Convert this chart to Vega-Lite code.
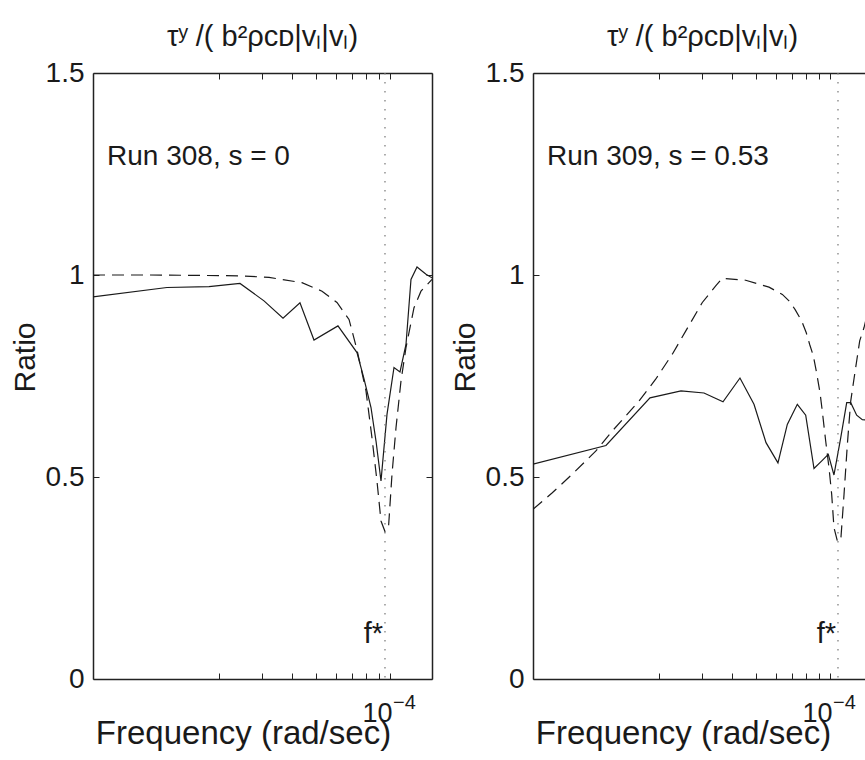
{
  "$schema": "https://vega.github.io/schema/vega-lite/v6.json",
  "background": "white",
  "padding": {"left": 10, "top": 23, "right": 0, "bottom": 5},
  "datasets": {
    "curves": [
      {"panel":"308","series":"measured","freq":6.135e-6,"ratio":0.946},
      {"panel":"308","series":"measured","freq":1.229e-5,"ratio":0.969},
      {"panel":"308","series":"measured","freq":1.825e-5,"ratio":0.971},
      {"panel":"308","series":"measured","freq":2.442e-5,"ratio":0.979},
      {"panel":"308","series":"measured","freq":3.060e-5,"ratio":0.936},
      {"panel":"308","series":"measured","freq":3.659e-5,"ratio":0.893},
      {"panel":"308","series":"measured","freq":4.291e-5,"ratio":0.931},
      {"panel":"308","series":"measured","freq":4.895e-5,"ratio":0.839},
      {"panel":"308","series":"measured","freq":6.132e-5,"ratio":0.874},
      {"panel":"308","series":"measured","freq":7.333e-5,"ratio":0.808},
      {"panel":"308","series":"measured","freq":7.833e-5,"ratio":0.743},
      {"panel":"308","series":"measured","freq":8.365e-5,"ratio":0.672},
      {"panel":"308","series":"measured","freq":8.768e-5,"ratio":0.589},
      {"panel":"308","series":"measured","freq":9.189e-5,"ratio":0.490},
      {"panel":"308","series":"measured","freq":9.722e-5,"ratio":0.655},
      {"panel":"308","series":"measured","freq":1.0383e-4,"ratio":0.771},
      {"panel":"308","series":"measured","freq":1.0985e-4,"ratio":0.760},
      {"panel":"308","series":"measured","freq":1.1622e-4,"ratio":0.828},
      {"panel":"308","series":"measured","freq":1.218e-4,"ratio":0.989},
      {"panel":"308","series":"measured","freq":1.289e-4,"ratio":1.020},
      {"panel":"308","series":"measured","freq":1.403e-4,"ratio":1.002},
      {"panel":"308","series":"measured","freq":1.484e-4,"ratio":0.993},
      {"panel":"308","series":"theory","freq":6.135e-6,"ratio":1.000},
      {"panel":"308","series":"theory","freq":1.038e-5,"ratio":1.000},
      {"panel":"308","series":"theory","freq":1.661e-5,"ratio":0.999},
      {"panel":"308","series":"theory","freq":2.419e-5,"ratio":0.998},
      {"panel":"308","series":"theory","freq":3.208e-5,"ratio":0.994},
      {"panel":"308","series":"theory","freq":4.373e-5,"ratio":0.981},
      {"panel":"308","series":"theory","freq":5.279e-5,"ratio":0.960},
      {"panel":"308","series":"theory","freq":6.075e-5,"ratio":0.932},
      {"panel":"308","series":"theory","freq":6.803e-5,"ratio":0.890},
      {"panel":"308","series":"theory","freq":7.333e-5,"ratio":0.815},
      {"panel":"308","series":"theory","freq":7.980e-5,"ratio":0.713},
      {"panel":"308","series":"theory","freq":8.443e-5,"ratio":0.597},
      {"panel":"308","series":"theory","freq":8.848e-5,"ratio":0.490},
      {"panel":"308","series":"theory","freq":9.189e-5,"ratio":0.391},
      {"panel":"308","series":"theory","freq":9.541e-5,"ratio":0.365},
      {"panel":"308","series":"theory","freq":9.860e-5,"ratio":0.375},
      {"panel":"308","series":"theory","freq":1.019e-4,"ratio":0.507},
      {"panel":"308","series":"theory","freq":1.058e-4,"ratio":0.622},
      {"panel":"308","series":"theory","freq":1.109e-4,"ratio":0.738},
      {"panel":"308","series":"theory","freq":1.162e-4,"ratio":0.820},
      {"panel":"308","series":"theory","freq":1.253e-4,"ratio":0.919},
      {"panel":"308","series":"theory","freq":1.338e-4,"ratio":0.960},
      {"panel":"308","series":"theory","freq":1.484e-4,"ratio":0.989},
      {"panel":"309","series":"measured","freq":6.135e-6,"ratio":0.532},
      {"panel":"309","series":"measured","freq":1.218e-5,"ratio":0.578},
      {"panel":"309","series":"measured","freq":1.842e-5,"ratio":0.696},
      {"panel":"309","series":"measured","freq":2.465e-5,"ratio":0.713},
      {"panel":"309","series":"measured","freq":3.060e-5,"ratio":0.708},
      {"panel":"309","series":"measured","freq":3.659e-5,"ratio":0.686},
      {"panel":"309","series":"measured","freq":4.291e-5,"ratio":0.745},
      {"panel":"309","series":"measured","freq":4.895e-5,"ratio":0.680},
      {"panel":"309","series":"measured","freq":5.481e-5,"ratio":0.585},
      {"panel":"309","series":"measured","freq":6.132e-5,"ratio":0.535},
      {"panel":"309","series":"measured","freq":6.695e-5,"ratio":0.630},
      {"panel":"309","series":"measured","freq":7.355e-5,"ratio":0.680},
      {"panel":"309","series":"measured","freq":7.959e-5,"ratio":0.653},
      {"panel":"309","series":"measured","freq":8.604e-5,"ratio":0.521},
      {"panel":"309","series":"measured","freq":9.302e-5,"ratio":0.541},
      {"panel":"309","series":"measured","freq":9.841e-5,"ratio":0.556},
      {"panel":"309","series":"measured","freq":1.038e-4,"ratio":0.505},
      {"panel":"309","series":"measured","freq":1.106e-4,"ratio":0.597},
      {"panel":"309","series":"measured","freq":1.170e-4,"ratio":0.684},
      {"panel":"309","series":"measured","freq":1.215e-4,"ratio":0.684},
      {"panel":"309","series":"measured","freq":1.285e-4,"ratio":0.653},
      {"panel":"309","series":"measured","freq":1.355e-4,"ratio":0.642},
      {"panel":"309","series":"measured","freq":1.484e-4,"ratio":0.640},
      {"panel":"309","series":"theory","freq":6.135e-6,"ratio":0.420},
      {"panel":"309","series":"theory","freq":7.355e-6,"ratio":0.461},
      {"panel":"309","series":"theory","freq":8.875e-6,"ratio":0.507},
      {"panel":"309","series":"theory","freq":1.106e-5,"ratio":0.564},
      {"panel":"309","series":"theory","freq":1.293e-5,"ratio":0.614},
      {"panel":"309","series":"theory","freq":1.661e-5,"ratio":0.688},
      {"panel":"309","series":"theory","freq":1.943e-5,"ratio":0.742},
      {"panel":"309","series":"theory","freq":2.272e-5,"ratio":0.804},
      {"panel":"309","series":"theory","freq":2.576e-5,"ratio":0.861},
      {"panel":"309","series":"theory","freq":3.012e-5,"ratio":0.932},
      {"panel":"309","series":"theory","freq":3.416e-5,"ratio":0.973},
      {"panel":"309","series":"theory","freq":3.635e-5,"ratio":0.992},
      {"panel":"309","series":"theory","freq":4.528e-5,"ratio":0.987},
      {"panel":"309","series":"theory","freq":5.637e-5,"ratio":0.970},
      {"panel":"309","series":"theory","freq":6.389e-5,"ratio":0.952},
      {"panel":"309","series":"theory","freq":6.803e-5,"ratio":0.936},
      {"panel":"309","series":"theory","freq":7.197e-5,"ratio":0.915},
      {"panel":"309","series":"theory","freq":7.666e-5,"ratio":0.886},
      {"panel":"309","series":"theory","freq":8.002e-5,"ratio":0.857},
      {"panel":"309","series":"theory","freq":8.262e-5,"ratio":0.828},
      {"panel":"309","series":"theory","freq":8.548e-5,"ratio":0.800},
      {"panel":"309","series":"theory","freq":8.792e-5,"ratio":0.762},
      {"panel":"309","series":"theory","freq":9.103e-5,"ratio":0.709},
      {"panel":"309","series":"theory","freq":9.302e-5,"ratio":0.663},
      {"panel":"309","series":"theory","freq":9.603e-5,"ratio":0.589},
      {"panel":"309","series":"theory","freq":9.906e-5,"ratio":0.523},
      {"panel":"309","series":"theory","freq":1.016e-4,"ratio":0.457},
      {"panel":"309","series":"theory","freq":1.038e-4,"ratio":0.375},
      {"panel":"309","series":"theory","freq":1.071e-4,"ratio":0.342},
      {"panel":"309","series":"theory","freq":1.106e-4,"ratio":0.342},
      {"panel":"309","series":"theory","freq":1.141e-4,"ratio":0.457},
      {"panel":"309","series":"theory","freq":1.177e-4,"ratio":0.580},
      {"panel":"309","series":"theory","freq":1.215e-4,"ratio":0.688},
      {"panel":"309","series":"theory","freq":1.273e-4,"ratio":0.771},
      {"panel":"309","series":"theory","freq":1.322e-4,"ratio":0.837},
      {"panel":"309","series":"theory","freq":1.377e-4,"ratio":0.870},
      {"panel":"309","series":"theory","freq":1.484e-4,"ratio":0.950}
    ],
    "fstar": [
      {"panel":"308","fstar":9.54e-5},
      {"panel":"309","fstar":1.078e-4}
    ]
  },
  "hconcat": [
    {
      "width": 339, "height": 606,
      "title": {"text": "τʸ /( b²ρcᴅ|vₗ|vₗ)"},
      "layer": [
        {
          "data": {"name": "curves"},
          "transform": [{"filter": "datum.panel === '308' && datum.series === 'measured'"}],
          "mark": {"type": "line", "color": "#1a1a1a", "strokeWidth": 1.2, "clip": true},
          "encoding": {
            "x": {"field": "freq", "type": "quantitative",
                  "scale": {"type": "log", "domain": [6.135e-6, 1.484e-4], "nice": false},
                  "axis": {"orient": "bottom", "values": [2e-5,3e-5,4e-5,5e-5,6e-5,7e-5,8e-5,9e-5,1e-4],
                           "labelExpr": "datum.value > 9.9e-5 ? '10' : ''", "labelOverlap": false, "labelFlush": false,
                           "tickSize": -6, "labelPadding": 48, "labelBaseline": "alphabetic", "labelOffset": -13,
                           "labelFontSize": 27,
                           "title": "Frequency (rad/sec)", "titleFontSize": 33,
                           "titleX": 150, "titleY": 64, "titleBaseline": "alphabetic"}},
            "y": {"field": "ratio", "type": "quantitative",
                  "scale": {"domain": [0, 1.5], "nice": false, "zero": false},
                  "axis": {"orient": "left", "values": [0, 0.5, 1, 1.5], "format": "~g", "tickSize": -6, "labelPadding": 15,
                           "title": "Ratio", "titleFontSize": 30, "titleX": -59, "titleY": 284, "titleBaseline": "alphabetic", "titleAngle": -90}}
          }
        },
        {
          "data": {"name": "curves"},
          "transform": [{"filter": "datum.panel === '308' && datum.series === 'theory'"}],
          "mark": {"type": "line", "color": "#1a1a1a", "strokeWidth": 1.2, "strokeDash": [12, 7], "clip": true},
          "encoding": {
            "x": {"field": "freq", "type": "quantitative",
                  "axis": {"orient": "top", "values": [2e-5,3e-5,4e-5,5e-5,6e-5,7e-5,8e-5,9e-5,1e-4], "labels": false, "tickSize": -6, "title": null}},
            "y": {"field": "ratio", "type": "quantitative",
                  "axis": {"orient": "right", "values": [0, 0.5, 1, 1.5], "labels": false, "tickSize": -6, "title": null}}
          }
        },
        {
          "data": {"name": "fstar"},
          "transform": [{"filter": "datum.panel === '308'"}],
          "mark": {"type": "rule", "color": "#777777", "strokeWidth": 1.2, "strokeDash": [1.5, 7.5]},
          "encoding": {"x": {"field": "fstar", "type": "quantitative", "axis": null}}
        },
        {
          "data": {"name": "fstar"},
          "transform": [{"filter": "datum.panel === '308'"}],
          "mark": {"type": "text", "align": "right", "baseline": "alphabetic", "dx": -2, "fontSize": 29, "font": "Liberation Sans", "color": "#1a1a1a"},
          "encoding": {"x": {"field": "fstar", "type": "quantitative", "axis": null},
                       "y": {"datum": 0.089, "type": "quantitative", "axis": null},
                       "text": {"value": "f*"}}
        },
        {
          "data": {"name": "fstar"},
          "transform": [{"filter": "datum.panel === '308'"}],
          "mark": {"type": "text", "align": "left", "baseline": "alphabetic", "dx": 3, "fontSize": 20, "font": "Liberation Sans", "color": "#1a1a1a"},
          "encoding": {"x": {"datum": 1e-4, "type": "quantitative", "axis": null},
                       "y": {"datum": -0.074, "type": "quantitative", "axis": null},
                       "text": {"value": "−4"}}
        },
        {
          "data": {"name": "fstar"},
          "transform": [{"filter": "datum.panel === '308'"}],
          "mark": {"type": "text", "align": "left", "baseline": "alphabetic", "fontSize": 28, "font": "Liberation Sans", "color": "#1a1a1a"},
          "encoding": {"x": {"datum": 7.0e-6, "type": "quantitative", "axis": null},
                       "y": {"datum": 1.272, "type": "quantitative", "axis": null},
                       "text": {"value": "Run 308, s = 0"}}
        }
      ],
      "resolve": {"axis": {"x": "independent", "y": "independent"}}
    },
    {
      "width": 339, "height": 606,
      "title": {"text": "τʸ /( b²ρcᴅ|vₗ|vₗ)"},
      "layer": [
        {
          "data": {"name": "curves"},
          "transform": [{"filter": "datum.panel === '309' && datum.series === 'measured'"}],
          "mark": {"type": "line", "color": "#1a1a1a", "strokeWidth": 1.2, "clip": true},
          "encoding": {
            "x": {"field": "freq", "type": "quantitative",
                  "scale": {"type": "log", "domain": [6.135e-6, 1.484e-4], "nice": false},
                  "axis": {"orient": "bottom", "values": [2e-5,3e-5,4e-5,5e-5,6e-5,7e-5,8e-5,9e-5,1e-4],
                           "labelExpr": "datum.value > 9.9e-5 ? '10' : ''", "labelOverlap": false, "labelFlush": false,
                           "tickSize": -6, "labelPadding": 48, "labelBaseline": "alphabetic", "labelOffset": -13,
                           "labelFontSize": 27,
                           "title": "Frequency (rad/sec)", "titleFontSize": 33,
                           "titleX": 150, "titleY": 64, "titleBaseline": "alphabetic"}},
            "y": {"field": "ratio", "type": "quantitative",
                  "scale": {"domain": [0, 1.5], "nice": false, "zero": false},
                  "axis": {"orient": "left", "values": [0, 0.5, 1, 1.5], "format": "~g", "tickSize": -6, "labelPadding": 15,
                           "title": "Ratio", "titleFontSize": 30, "titleX": -59, "titleY": 284, "titleBaseline": "alphabetic", "titleAngle": -90}}
          }
        },
        {
          "data": {"name": "curves"},
          "transform": [{"filter": "datum.panel === '309' && datum.series === 'theory'"}],
          "mark": {"type": "line", "color": "#1a1a1a", "strokeWidth": 1.2, "strokeDash": [12, 7], "clip": true},
          "encoding": {
            "x": {"field": "freq", "type": "quantitative",
                  "axis": {"orient": "top", "values": [2e-5,3e-5,4e-5,5e-5,6e-5,7e-5,8e-5,9e-5,1e-4], "labels": false, "tickSize": -6, "title": null}},
            "y": {"field": "ratio", "type": "quantitative",
                  "axis": {"orient": "right", "values": [0, 0.5, 1, 1.5], "labels": false, "tickSize": -6, "title": null}}
          }
        },
        {
          "data": {"name": "fstar"},
          "transform": [{"filter": "datum.panel === '309'"}],
          "mark": {"type": "rule", "color": "#777777", "strokeWidth": 1.2, "strokeDash": [1.5, 7.5]},
          "encoding": {"x": {"field": "fstar", "type": "quantitative", "axis": null}}
        },
        {
          "data": {"name": "fstar"},
          "transform": [{"filter": "datum.panel === '309'"}],
          "mark": {"type": "text", "align": "right", "baseline": "alphabetic", "dx": -2, "fontSize": 29, "font": "Liberation Sans", "color": "#1a1a1a"},
          "encoding": {"x": {"field": "fstar", "type": "quantitative", "axis": null},
                       "y": {"datum": 0.089, "type": "quantitative", "axis": null},
                       "text": {"value": "f*"}}
        },
        {
          "data": {"name": "fstar"},
          "transform": [{"filter": "datum.panel === '309'"}],
          "mark": {"type": "text", "align": "left", "baseline": "alphabetic", "dx": 3, "fontSize": 20, "font": "Liberation Sans", "color": "#1a1a1a"},
          "encoding": {"x": {"datum": 1e-4, "type": "quantitative", "axis": null},
                       "y": {"datum": -0.074, "type": "quantitative", "axis": null},
                       "text": {"value": "−4"}}
        },
        {
          "data": {"name": "fstar"},
          "transform": [{"filter": "datum.panel === '309'"}],
          "mark": {"type": "text", "align": "left", "baseline": "alphabetic", "fontSize": 28, "font": "Liberation Sans", "color": "#1a1a1a"},
          "encoding": {"x": {"datum": 7.0e-6, "type": "quantitative", "axis": null},
                       "y": {"datum": 1.272, "type": "quantitative", "axis": null},
                       "text": {"value": "Run 309, s = 0.53"}}
        }
      ],
      "resolve": {"axis": {"x": "independent", "y": "independent"}}
    }
  ],
  "spacing": 101,
  "bounds": "flush",
  "config": {
    "view": {"stroke": null},
    "axis": {"domainColor": "#222222", "domainWidth": 1.5, "tickColor": "#222222", "tickWidth": 1,
             "labelFont": "Liberation Sans", "labelFontSize": 28, "labelColor": "#1a1a1a",
             "titleFont": "Liberation Sans", "titleFontSize": 31, "titleFontWeight": "normal", "titleColor": "#1a1a1a",
             "grid": false},
    "title": {"font": "Liberation Sans", "fontSize": 29, "fontWeight": "normal", "color": "#1a1a1a",
              "baseline": "alphabetic", "offset": 7, "anchor": "middle"}
  }
}
